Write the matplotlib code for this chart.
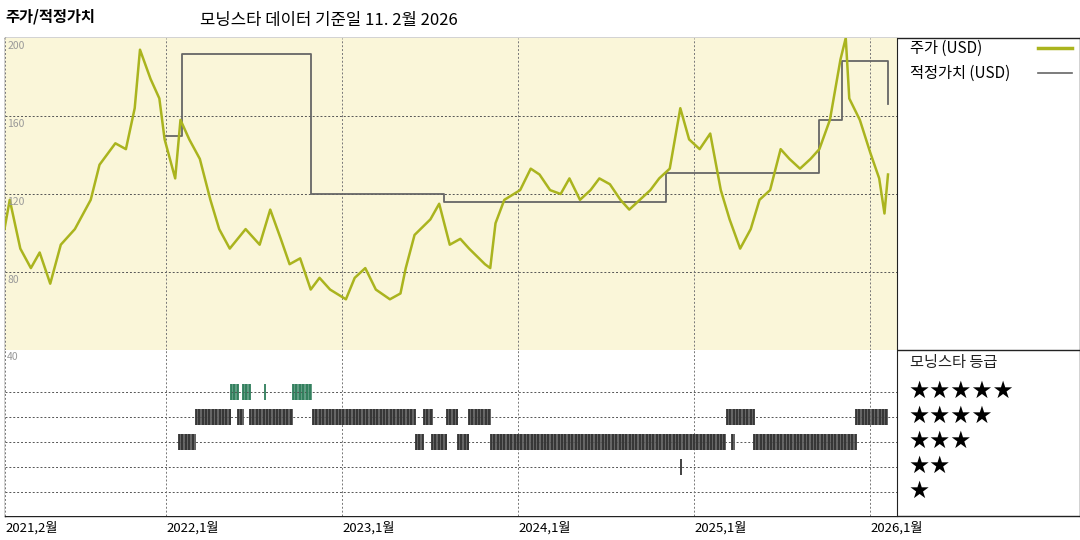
import matplotlib
matplotlib.use("Agg")
import matplotlib.pyplot as plt
import numpy as np

plt.rcParams['font.family'] = ['Noto Sans CJK KR', 'DejaVu Sans']

# ---- data ----
price_t = [2021.08,2021.11,2021.17,2021.23,2021.28,2021.34,2021.40,2021.48,2021.57,2021.62,2021.71,2021.77,
           2021.82,2021.85,2021.91,2021.96,2021.99,2022.05,2022.08,2022.13,2022.19,2022.25,2022.30,2022.36,
           2022.45,2022.53,2022.59,2022.65,2022.70,2022.76,2022.82,2022.87,2022.93,2023.02,2023.07,2023.13,
           2023.19,2023.27,2023.33,2023.36,2023.41,2023.50,2023.55,2023.61,2023.67,2023.72,2023.81,2023.84,
           2023.87,2023.92,2024.01,2024.07,2024.12,2024.18,2024.24,2024.29,2024.35,2024.41,2024.46,2024.52,
           2024.58,2024.63,2024.69,2024.75,2024.80,2024.86,2024.92,2024.97,2025.03,2025.09,2025.15,2025.20,
           2025.26,2025.32,2025.37,2025.43,2025.49,2025.54,2025.60,2025.66,2025.71,2025.77,2025.83,2025.86,
           2025.88,2025.94,2026.00,2026.05,2026.08,2026.10]
price_v = [102,117,92,82,90,74,94,102,117,135,146,143,
           164,194,179,169,148,128,158,148,138,117,102,92,
           102,94,112,97,84,87,71,77,71,66,77,82,
           71,66,69,82,99,107,115,94,97,92,84,82,
           105,117,122,133,130,122,120,128,117,122,128,125,
           117,112,117,122,128,133,164,148,143,151,122,107,
           92,102,117,122,143,138,133,138,143,158,189,200,
           169,158,141,128,110,130]

fv_t = [2021.99,2022.09,2022.82,2023.58,2024.84,2025.71,2025.84,2026.10]
fv_v = [150,192,120,116,131,158,188,166]

# (start, end, stars)
rating_periods = [
    (2022.367,2022.407,5),(2022.435,2022.475,5),(2022.56,2022.56,5),(2022.72,2022.83,5),
    (2022.168,2022.367,4),(2022.407,2022.44,4),(2022.475,2022.72,4),(2022.833,2023.412,4),
    (2023.464,2023.515,4),(2023.594,2023.657,4),(2023.719,2023.844,4),(2025.185,2025.339,4),
    (2025.918,2026.10,4),
    (2022.072,2022.168,3),(2023.418,2023.458,3),(2023.509,2023.594,3),(2023.657,2023.719,3),
    (2023.844,2025.18,3),(2025.214,2025.23,3),(2025.339,2025.918,3),
    (2024.924,2024.924,2),
]

year_ticks = [2021.083,2022.0,2023.0,2024.0,2025.0,2026.0]
year_labels = ["2021,2월","2022,1월","2023,1월","2024,1월","2025,1월","2026,1월"]
price_grid = [80,120,160]
price_labels = [200,160,120,80,40]

# ---- figure ----
W, H = 1080, 540
fig = plt.figure(figsize=(W/100, H/100), dpi=100)

def rect(x0, y0, x1, y1):
    return [x0/W, 1-y1/H, (x1-x0)/W, (y1-y0)/H]

xl = (2021.083, 2021.083 + (897-5)/176)

frame = fig.add_axes(rect(5, 38, 1080, 516))
frame.set_xticks([]); frame.set_yticks([])
frame.patch.set_alpha(0)
for s in frame.spines.values():
    s.set_color('#222'); s.set_linewidth(1)
frame.axhline(1-(350-38)/(516-38), color='#222', lw=1)

ax = fig.add_axes(rect(5, 38, 897, 350))
ax.set_facecolor('#faf6d9')
ax.set_xlim(*xl); ax.set_ylim(40, 200)
for s in ['top','left','bottom']:
    ax.spines[s].set_visible(False)
ax.spines['right'].set_color('#222')
ax.set_xticks([]); ax.set_yticks([])
for g in price_grid:
    ax.axhline(g, color='#555', ls=(0,(2,2)), lw=0.7)
for t in year_ticks:
    ax.axvline(t, color='#777', ls=(0,(2,2)), lw=0.7)
ax.plot(fv_t, fv_v, drawstyle='steps-post', color='#666666', lw=1.3)
ax.plot(price_t, price_v, color='#aab41e', lw=1.8)
for v in price_labels[:-1]:
    ax.text(2021.095, v-1.5, str(v), fontsize=7.5, color='#999', va='top', ha='left')

ar = fig.add_axes(rect(5, 350, 897, 516))
ar.set_xlim(*xl); ar.set_ylim(0.04, 6.68)
for s in ['top','left','bottom']:
    ar.spines[s].set_visible(False)
ar.spines['right'].set_color('#222')
ar.set_xticks([]); ar.set_yticks([])
for r in range(1, 6):
    ar.axhline(r, color='#555', ls=(0,(2,2)), lw=0.7)
for t in year_ticks:
    ar.axvline(t, color='#777', ls=(0,(2,2)), lw=0.7)
ar.text(2021.095, 6.6, "40", fontsize=7.5, color='#999', va='top', ha='left')
for (s, e, r) in rating_periods:
    col = '#2e7d5b' if r == 5 else '#333333'
    ts = np.arange(s, e + 1e-6, 1/52) if e > s else np.array([s])
    ar.vlines(ts, r-0.33, r+0.33, color=col, lw=1.3)
    if e > s:
        ar.fill_between([s, e], r-0.33, r+0.33, color=col, alpha=0.75, lw=0)

for t, lab in zip(year_ticks, year_labels):
    x = 5 + (t-2021.083)*176
    fig.text(x/W, 1-528/H, lab, fontsize=9.5, ha='left', va='center')

fig.text(5/W, 1-17/H, "주가/적정가치", fontsize=11, fontweight='bold', va='center')
fig.text(200/W, 1-20/H, "모닝스타 데이터 기준일 11. 2월 2026", fontsize=12, va='center')

fig.text(910/W, 1-48/H, "주가 (USD)", fontsize=11, va='center')
fig.add_artist(plt.Line2D([1038/W, 1072/W], [1-48/H, 1-48/H], color='#aab41e', lw=2.5))
fig.text(910/W, 1-73/H, "적정가치 (USD)", fontsize=11, va='center')
fig.add_artist(plt.Line2D([1038/W, 1072/W], [1-73/H, 1-73/H], color='#666666', lw=1.2))
fig.text(910/W, 1-362/H, "모닝스타 등급", fontsize=11, va='center', color='#222')
for i, n in enumerate([5, 4, 3, 2, 1]):
    fig.text(908/W, 1-(391+25*i)/H, "★"*n, fontsize=17, va='center', family=['DejaVu Sans'])

fig.savefig("out.png", dpi=100)
